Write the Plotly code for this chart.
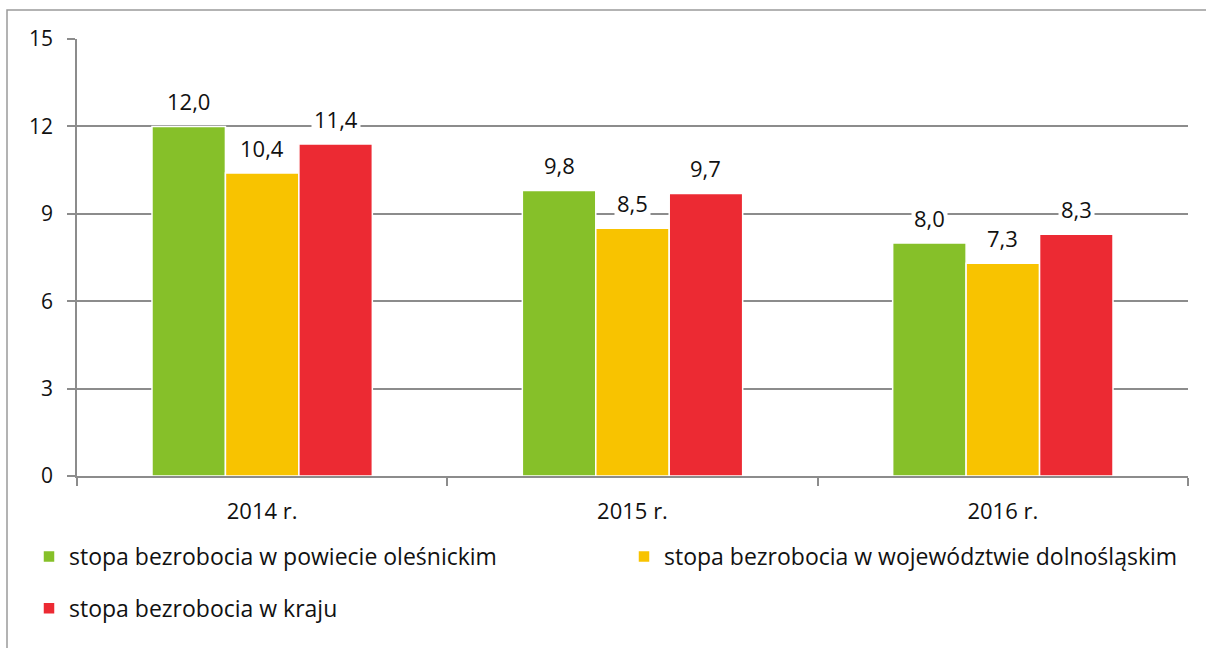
import plotly.graph_objects as go

categories = ["2014 r.", "2015 r.", "2016 r."]
series_names = [
    "stopa bezrobocia w powiecie oleśnickim",
    "stopa bezrobocia w województwie dolnośląskim",
    "stopa bezrobocia w kraju",
]
powiat = [12.0, 9.8, 8.0]
wojewodztwo = [10.4, 8.5, 7.3]
kraj = [11.4, 9.7, 8.3]
y_ticks = [0, 3, 6, 9, 12, 15]

colors = ["#86C029", "#F8C300", "#EC2A33"]
series = [powiat, wojewodztwo, kraj]
legend_ids = ["legend", "legend2", "legend"]

W, H = 1206, 648
ml, mr, mt, mb = 77, 18, 39, 172
pw = W - ml - mr
ph = H - mt - mb
bargap = 0.405
font_family = "Open Sans, Noto Sans, sans-serif"

fig = go.Figure()
for name, vals, col, lg in zip(series_names, series, colors, legend_ids):
    fig.add_trace(go.Bar(
        x=categories, y=vals, name=name, legend=lg, legendgroup=name,
        marker=dict(color=col, line=dict(color="white", width=1.5)),
    ))

# data labels as annotations with white background
bw = (1 - bargap) / len(series)
for j, vals in enumerate(series):
    for i, v in enumerate(vals):
        fig.add_annotation(
            x=i + (j - (len(series) - 1) / 2) * bw, y=v,
            xref="x", yref="y",
            text=f"{v:.1f}".replace(".", ","),
            showarrow=False, yanchor="bottom", yshift=7,
            bgcolor="white", borderpad=2,
            font=dict(size=22, color="#111111", family=font_family),
        )

fig.add_shape(
    type="rect", xref="paper", yref="paper",
    x0=(7 - ml) / pw, x1=(W + 20 - ml) / pw,
    y0=-(H + 20 - mt - ph) / ph, y1=1 + (mt - 10) / ph,
    line=dict(color="#9A9A9A", width=1.5), fillcolor="rgba(0,0,0,0)",
    layer="below",
)

legend_common = dict(
    orientation="v", xanchor="left", yanchor="top",
    font=dict(size=23, color="#111111", family=font_family),
    itemwidth=30, tracegroupgap=19, traceorder="grouped",
    bgcolor="rgba(0,0,0,0)",
)

fig.update_layout(
    width=W, height=H,
    margin=dict(l=ml, r=mr, t=mt, b=mb, autoexpand=False),
    paper_bgcolor="white", plot_bgcolor="white",
    barmode="group", bargap=bargap, bargroupgap=0,
    font=dict(family=font_family, size=22, color="#111111"),
    showlegend=True,
    legend=dict(x=(29 - ml) / pw, y=-(535 - mt - ph) / ph, **legend_common),
    legend2=dict(x=(624 - ml) / pw, y=-(535 - mt - ph) / ph, **legend_common),
    xaxis=dict(
        showline=True, linecolor="#8C8C8C", linewidth=1.5,
        ticks="outside", tickson="boundaries", ticklen=8, tickcolor="#8C8C8C",
        tickwidth=1.5, tickfont=dict(size=22), ticklabelstandoff=15,
    ),
    yaxis=dict(
        range=[0, 15], tickvals=y_ticks, showgrid=True, gridcolor="#8C8C8C",
        gridwidth=1.5, showline=True, linecolor="#8C8C8C", linewidth=1.5,
        ticks="outside", ticklen=8, tickcolor="#8C8C8C", tickwidth=1.5,
        tickfont=dict(size=21), zeroline=False, ticklabelstandoff=10,
    ),
)

fig.write_html(
    "out.html",
    config={"displayModeBar": False},
    post_script="document.body.style.margin='0px';",
)
